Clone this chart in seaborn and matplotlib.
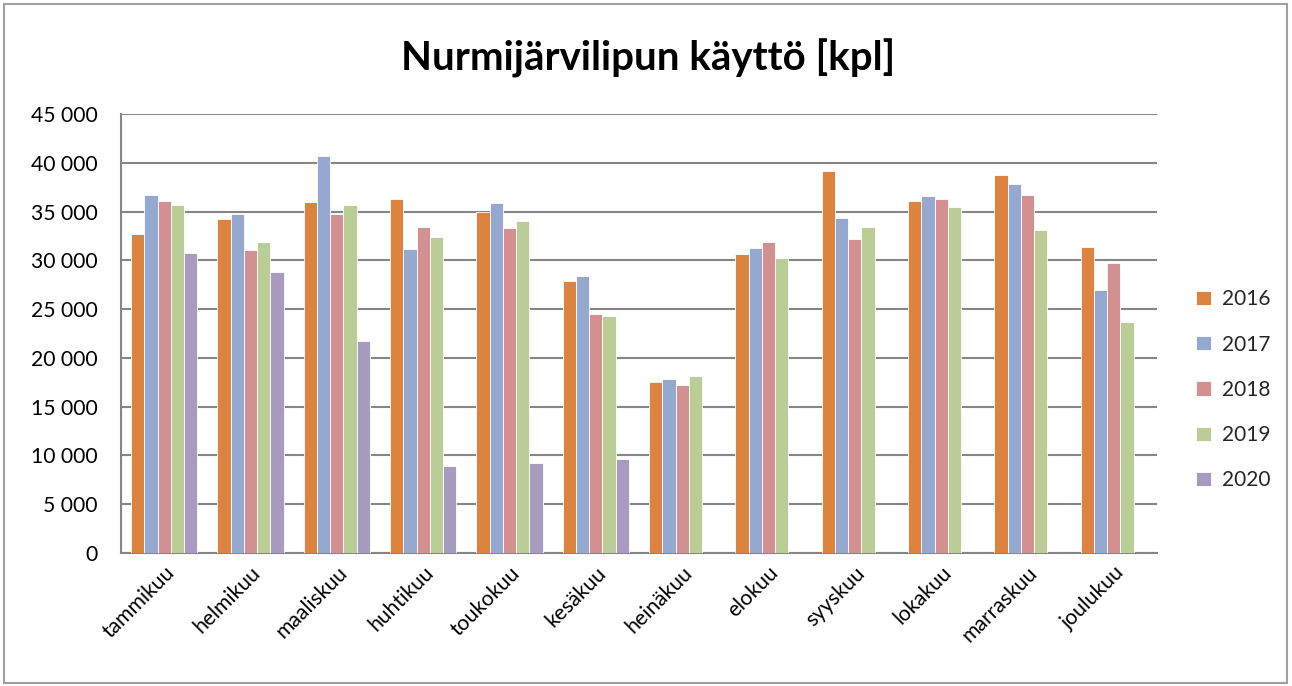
import matplotlib
matplotlib.use("Agg")
import matplotlib.pyplot as plt
from matplotlib.ticker import FuncFormatter, MultipleLocator
from matplotlib.patches import Rectangle
import seaborn as sns
import pandas as pd
import numpy as np

# data
kuukaudet = ["tammikuu", "helmikuu", "maaliskuu", "huhtikuu", "toukokuu", "kesäkuu",
             "heinäkuu", "elokuu", "syyskuu", "lokakuu", "marraskuu", "joulukuu"]
vuodet = ["2016", "2017", "2018", "2019", "2020"]
v2016 = [32700, 34250, 36000, 36250, 35000, 27900, 17500, 30700, 39150, 36050, 38700, 31350]
v2017 = [36700, 34750, 40700, 31200, 35850, 28400, 17800, 31300, 34300, 36550, 37850, 27000]
v2018 = [36100, 31050, 34750, 33400, 33300, 24550, 17200, 31900, 32150, 36300, 36700, 29750]
v2019 = [35700, 31850, 35700, 32400, 34000, 24300, 18100, 30200, 33450, 35500, 33150, 23650]
v2020 = [30750, 28850, 21750, 8900, 9200, 9650, None, None, None, None, None, None]
varit = ["#DC843F", "#95A9D0", "#D29090", "#BBCD96", "#A89BC0"]

rivit = []
for vuosi, arvot in zip(vuodet, [v2016, v2017, v2018, v2019, v2020]):
    for kk, a in zip(kuukaudet, arvot):
        if a is not None:
            rivit.append({"kuukausi": kk, "vuosi": vuosi, "kpl": a})
df = pd.DataFrame(rivit)

sns.set_theme(style="white")
plt.rcParams["font.family"] = ["Lato", "DejaVu Sans"]

fig = plt.figure(figsize=(12.92, 6.86), dpi=100)
ax = fig.add_axes([121 / 1292, 1 - 553 / 686, (1157 - 121) / 1292, (553 - 114) / 686])

sns.barplot(data=df, x="kuukausi", y="kpl", hue="vuosi", order=kuukaudet, hue_order=vuodet,
            palette=varit, width=0.765, saturation=1, edgecolor="white", linewidth=0.6,
            errorbar=None, ax=ax, zorder=3)

gridc = "#868686"
ax.set_ylim(0, 45000)
ax.set_xlim(-0.5, len(kuukaudet) - 0.5)
ax.yaxis.set_major_locator(MultipleLocator(5000))
ax.yaxis.set_major_formatter(FuncFormatter(lambda v, p: f"{v:,.0f}".replace(",", " ")))
ax.grid(axis="y", color=gridc, linewidth=1.5, zorder=0)
ax.set_axisbelow(True)
for s in ["top", "right"]:
    ax.spines[s].set_visible(False)
for s in ["left", "bottom"]:
    ax.spines[s].set_color(gridc)
    ax.spines[s].set_linewidth(1.5)
ax.set_xlabel("")
ax.set_ylabel("")
ax.tick_params(axis="y", labelsize=15.2, colors="black", length=0, pad=17)
ax.tick_params(axis="x", labelsize=15.2, colors="black", length=0, pad=7)
plt.setp(ax.get_xticklabels(), rotation=45, ha="right", rotation_mode="anchor")

fig.text(648 / 1292, 1 - 58 / 686, "Nurmijärvilipun käyttö [kpl]", ha="center", va="center",
         fontsize=29, fontweight="bold", color="black")

h, l = ax.get_legend_handles_labels()
ax.get_legend().remove()
fig.legend(h, l, loc="upper left", bbox_to_anchor=(1188 / 1292, 1 - 281 / 686), frameon=False,
           fontsize=15, labelspacing=1.21, handlelength=0.68, handleheight=0.68,
           handletextpad=0.55, borderaxespad=0)

fig.patches.append(Rectangle((4 / 1292, 3 / 686), 1283 / 1292, 679 / 686, transform=fig.transFigure,
                             fill=False, edgecolor="#A0A0A0", linewidth=1.5))

fig.savefig("out.png", dpi=100)
